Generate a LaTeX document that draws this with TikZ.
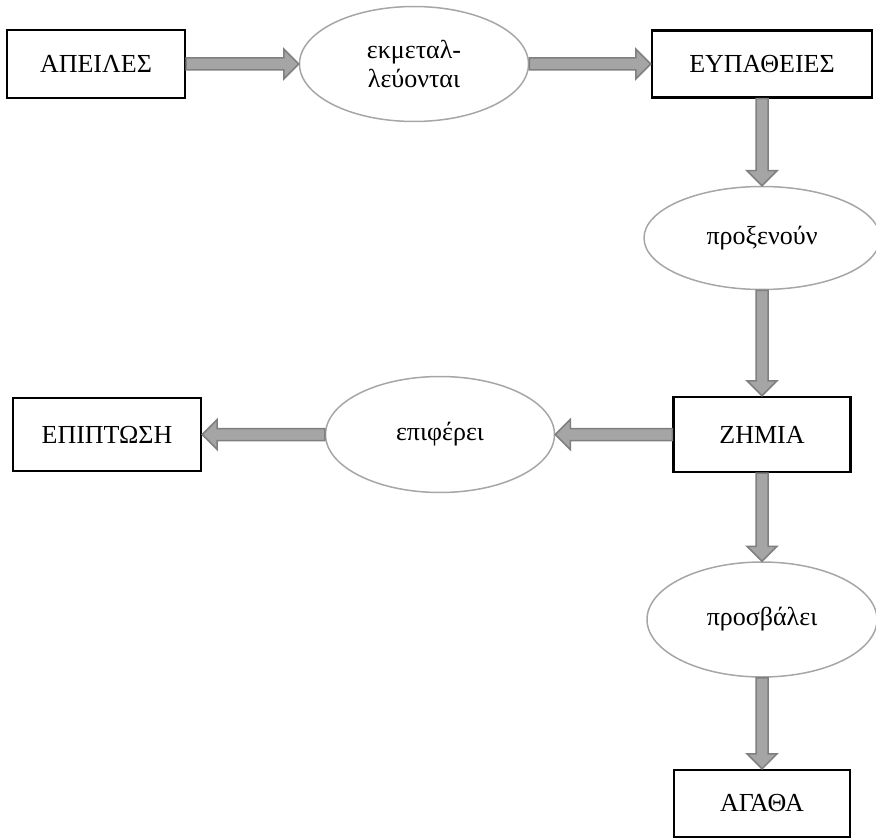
\documentclass[tikz,border=0pt]{standalone}
\usepackage{fontspec}
\setmainfont{Liberation Serif}
\usetikzlibrary{shapes.geometric,calc}
\definecolor{arrowfill}{HTML}{A5A5A5}
\definecolor{arrowedge}{HTML}{7F7F7F}
\definecolor{ovaledge}{HTML}{A6A6A6}
\newcommand{\blockarrow}[2]{%
  \path ($(#2)!15pt!(#1)$) coordinate (head);
  \filldraw[draw=arrowedge, fill=arrowfill, line width=1.5pt]
    ($(#1)!6pt!90:(#2)$) -- ($(head)!6pt!90:(#2)$) -- ($(head)!15pt!90:(#2)$) -- (#2)
    -- ($(head)!15pt!-90:(#2)$) -- ($(head)!6pt!-90:(#2)$) -- ($(#1)!6pt!-90:(#2)$) -- cycle;}
\begin{document}
\begin{tikzpicture}[x=1pt, y=-1pt,
  box/.style={draw, line width=2.4pt, inner sep=0pt, font=\fontsize{26}{29}\selectfont},
  oval/.style={ellipse, draw=ovaledge, line width=1.5pt, inner sep=0pt, align=center, font=\fontsize{26}{29}\selectfont}]
\useasboundingbox (0,0) rectangle (876,840);
\node[box, minimum width=178pt, minimum height=68pt] (threats) at (96,64) {ΑΠΕΙΛΕΣ};
\node[oval, minimum width=229pt, minimum height=115pt] (exploit) at (414,64) {εκμεταλ-\\λεύονται};
\node[box, minimum width=220pt, minimum height=67pt] (vulns) at (762,64) {ΕΥΠΑΘΕΙΕΣ};
\node[oval, minimum width=236pt, minimum height=103pt] (cause) at (762,238) {προξενούν};
\node[box, minimum width=177pt, minimum height=75pt] (damage) at (762,434.5) {ΖΗΜΙΑ};
\node[oval, minimum width=229pt, minimum height=116pt] (entails) at (440,434.5) {επιφέρει};
\node[box, minimum width=188pt, minimum height=73pt] (impact) at (107,434.5) {ΕΠΙΠΤΩΣΗ};
\node[oval, minimum width=230pt, minimum height=115pt] (attacks) at (762,619.5) {προσβάλει};
\node[box, minimum width=176pt, minimum height=67pt] (assets) at (762,803.5) {ΑΓΑΘΑ};
\blockarrow{threats.east}{exploit.west}
\blockarrow{exploit.east}{vulns.west}
\blockarrow{vulns.south}{cause.north}
\blockarrow{cause.south}{damage.north}
\blockarrow{damage.west}{entails.east}
\blockarrow{entails.west}{impact.east}
\blockarrow{damage.south}{attacks.north}
\blockarrow{attacks.south}{assets.north}
\end{tikzpicture}
\end{document}
